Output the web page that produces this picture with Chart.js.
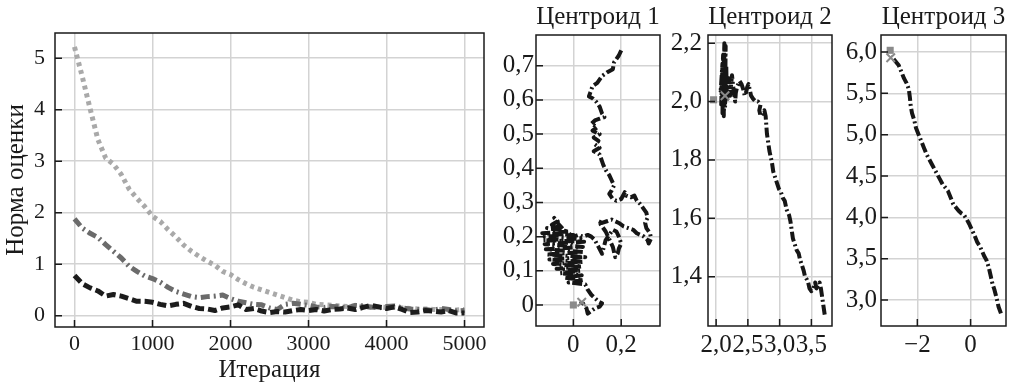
<!DOCTYPE html>
<html>
<head>
<meta charset="utf-8">
<script src="https://cdn.jsdelivr.net/npm/chart.js@4.4.1/dist/chart.umd.min.js"></script>
<style>
  html, body { margin: 0; padding: 0; background: #fff; }
  #wrap { position: relative; width: 1014px; height: 387px; overflow: hidden; }
  canvas { position: absolute; top: 0; }
</style>
</head>
<body>
<div id="wrap">
  <canvas id="main" width="492" height="387" style="left:0"></canvas>
  <canvas id="c1" width="178" height="387" style="left:490px"></canvas>
  <canvas id="c2" width="172" height="387" style="left:668px"></canvas>
  <canvas id="c3" width="174" height="387" style="left:840px"></canvas>
</div>
<script>
// ---- main panel: norm of the estimate vs iteration ----
const iterations = [
  0, 100, 200, 300, 400, 500, 600, 700, 800, 900,
  1000, 1100, 1200, 1300, 1400, 1500, 1600, 1700, 1800, 1900,
  2000, 2100, 2200, 2300, 2400, 2500, 2600, 2700, 2800, 2900,
  3000, 3100, 3200, 3300, 3400, 3500, 3600, 3700, 3800, 3900,
  4000, 4100, 4200, 4300, 4400, 4500, 4600, 4700, 4800, 4900, 5000
];
const normLight = [
  5.22, 4.64, 4.02, 3.42, 3.06, 2.94, 2.74, 2.46, 2.28, 2.12,
  1.93, 1.83, 1.67, 1.53, 1.37, 1.25, 1.15, 1.06, 0.98, 0.86,
  0.80, 0.70, 0.62, 0.55, 0.50, 0.45, 0.40, 0.35, 0.30, 0.27,
  0.26, 0.22, 0.21, 0.20, 0.19, 0.18, 0.19, 0.18, 0.16, 0.17,
  0.16, 0.16, 0.15, 0.14, 0.13, 0.13, 0.12, 0.12, 0.11, 0.11, 0.12
];
const normMid = [
  1.88, 1.70, 1.60, 1.52, 1.38, 1.25, 1.12, 0.96, 0.86, 0.77,
  0.72, 0.65, 0.55, 0.47, 0.42, 0.37, 0.35, 0.37, 0.38, 0.40,
  0.33, 0.28, 0.25, 0.22, 0.21, 0.15, 0.12, 0.22, 0.24, 0.22,
  0.20, 0.17, 0.16, 0.18, 0.17, 0.15, 0.20, 0.19, 0.17, 0.15,
  0.18, 0.19, 0.15, 0.13, 0.12, 0.12, 0.10, 0.14, 0.12, 0.09, 0.10
];
const normDark = [
  0.78, 0.62, 0.54, 0.48, 0.38, 0.41, 0.38, 0.33, 0.28, 0.28,
  0.26, 0.22, 0.19, 0.22, 0.24, 0.18, 0.14, 0.13, 0.10, 0.15,
  0.17, 0.21, 0.12, 0.14, 0.09, 0.06, 0.08, 0.07, 0.10, 0.12,
  0.10, 0.12, 0.09, 0.12, 0.13, 0.15, 0.12, 0.16, 0.20, 0.17,
  0.14, 0.17, 0.12, 0.06, 0.07, 0.10, 0.09, 0.07, 0.10, 0.05, 0.05
];
const mainXTicks = [0, 1000, 2000, 3000, 4000, 5000];
const mainXLabels = ["0", "1000", "2000", "3000", "4000", "5000"];
const mainYTicks = [0, 1, 2, 3, 4, 5];
const mainYLabels = ["0", "1", "2", "3", "4", "5"];

// ---- centroid 1 trajectory ----
const c1x = [
  0.20, 0.19, 0.17, 0.165, 0.14, 0.12, 0.10, 0.08, 0.07, 0.065, 0.08, 0.095, 0.11, 0.12, 0.13,
  0.11, 0.09, 0.075, 0.10, 0.08, 0.11, 0.085, 0.105, 0.09, 0.11, 0.085, 0.10, 0.11, 0.115, 0.12,
  0.125, 0.135, 0.15, 0.16, 0.17, 0.16, 0.15, 0.165, 0.18, 0.20, 0.215, 0.22, 0.24, 0.255, 0.265,
  0.28, 0.29, 0.305, 0.31, 0.30, 0.305, 0.32, 0.325, 0.315, 0.31, 0.295, 0.28, 0.265, 0.25, 0.23,
  0.21, 0.19, 0.175, 0.16, 0.14, 0.12, 0.105, 0.12, 0.135, 0.145, 0.155, 0.165, 0.17, 0.175, 0.185,
  0.19, 0.20, 0.19, 0.18, 0.165, 0.15, 0.135, 0.12, 0.105, 0.09, 0.075, 0.06, 0.04, 0.02, 0.0,
  -0.02, -0.04, -0.06, -0.08, -0.065, -0.09, -0.05, -0.11, -0.02, -0.13, 0.0, -0.12, 0.03, -0.125, 0.045,
  -0.12, 0.04, -0.115, 0.045, -0.11, 0.05, -0.10, 0.04, -0.085, 0.035, -0.07, 0.03, -0.055, 0.035, -0.035,
  0.04, -0.02, 0.05, 0.06, 0.075, 0.09, 0.105, 0.12, 0.11, 0.09, 0.07, 0.06, 0.055, 0.045, 0.035, 0.03
];
const c1y = [
  0.745, 0.73, 0.71, 0.69, 0.68, 0.67, 0.65, 0.64, 0.62, 0.61, 0.605, 0.595, 0.58, 0.56, 0.55,
  0.545, 0.54, 0.53, 0.52, 0.51, 0.50, 0.49, 0.48, 0.47, 0.46, 0.45, 0.445, 0.44, 0.43, 0.42,
  0.41, 0.395, 0.38, 0.365, 0.35, 0.335, 0.325, 0.31, 0.305, 0.31, 0.33, 0.32, 0.315, 0.32, 0.305,
  0.295, 0.285, 0.27, 0.255, 0.24, 0.225, 0.21, 0.195, 0.18, 0.19, 0.20, 0.205, 0.21, 0.22, 0.225,
  0.23, 0.24, 0.245, 0.25, 0.245, 0.24, 0.245, 0.23, 0.215, 0.20, 0.185, 0.17, 0.155, 0.14, 0.15,
  0.165, 0.18, 0.20, 0.215, 0.22, 0.205, 0.19, 0.15, 0.17, 0.19, 0.20, 0.205, 0.20, 0.205, 0.20,
  0.21, 0.22, 0.235, 0.255, 0.245, 0.235, 0.23, 0.225, 0.215, 0.21, 0.205, 0.20, 0.195, 0.19, 0.185,
  0.178, 0.17, 0.163, 0.155, 0.148, 0.14, 0.133, 0.126, 0.12, 0.113, 0.106, 0.10, 0.093, 0.087, 0.08,
  0.073, 0.066, 0.06, 0.045, 0.03, 0.02, 0.01, 0.005, -0.005, -0.01, -0.02, -0.025, -0.01, 0.0, 0.01, 0.005
];
const c1XTicks = [0, 0.2];
const c1XLabels = ["0", "0,2"];
const c1YTicks = [0, 0.1, 0.2, 0.3, 0.4, 0.5, 0.6, 0.7];
const c1YLabels = ["0", "0,1", "0,2", "0,3", "0,4", "0,5", "0,6", "0,7"];
const c1Start = [0.0, 0.0];
const c1End = [0.035, 0.008];

// ---- centroid 2 trajectory ----
const c2x = [
  3.71, 3.69, 3.67, 3.65, 3.63, 3.61, 3.58, 3.56, 3.53, 3.50, 3.47, 3.45, 3.43, 3.40, 3.38,
  3.35, 3.32, 3.30, 3.27, 3.24, 3.21, 3.19, 3.17, 3.15, 3.11, 3.08, 3.05, 3.02, 2.99, 2.96,
  2.93, 2.90, 2.88, 2.86, 2.84, 2.82, 2.80, 2.79, 2.78, 2.76, 2.73, 2.70, 2.68, 2.70, 2.66,
  2.62, 2.58, 2.55, 2.53, 2.51, 2.49, 2.47, 2.45, 2.43, 2.40, 2.37, 2.35, 2.33, 2.31, 2.30,
  2.28, 2.25, 2.22, 2.20, 2.17, 2.16, 2.14, 2.15, 2.12, 2.13, 2.10, 2.11, 2.08, 2.10, 2.07,
  2.12, 2.09, 2.14, 2.11, 2.13
];
const c2y = [
  1.27, 1.30, 1.33, 1.36, 1.38, 1.37, 1.36, 1.38, 1.36, 1.35, 1.36, 1.38, 1.39, 1.40, 1.42,
  1.44, 1.46, 1.48, 1.49, 1.51, 1.53, 1.56, 1.59, 1.61, 1.63, 1.66, 1.67, 1.69, 1.70, 1.72,
  1.74, 1.76, 1.79, 1.81, 1.83, 1.86, 1.89, 1.92, 1.95, 1.97, 1.96, 1.95, 1.97, 1.99, 2.00,
  2.00, 2.01, 2.02, 2.04, 2.06, 2.05, 2.03, 2.02, 2.04, 2.06, 2.07, 2.06, 2.05, 2.03, 2.00,
  2.03, 2.09, 2.02, 2.08, 2.00, 2.12, 1.98, 2.19, 1.95, 2.20, 1.96, 2.16, 1.99, 2.13, 2.03,
  2.10, 2.00, 2.07, 2.02, 2.04
];
const c2XTicks = [2.0, 2.5, 3.0, 3.5];
const c2XLabels = ["2,0", "2,5", "3,0", "3,5"];
const c2YTicks = [1.4, 1.6, 1.8, 2.0, 2.2];
const c2YLabels = ["1,4", "1,6", "1,8", "2,0", "2,2"];
const c2Start = [1.96, 2.006];
const c2End = [2.14, 2.02];

// ---- centroid 3 trajectory ----
const c3x = [
  1.14, 1.05, 0.98, 0.90, 0.82, 0.75, 0.68, 0.60, 0.50, 0.42, 0.35, 0.25, 0.15, 0.05, -0.05,
  -0.15, -0.25, -0.35, -0.45, -0.55, -0.65, -0.75, -0.85, -0.95, -1.05, -1.15, -1.25, -1.35, -1.45, -1.55,
  -1.65, -1.75, -1.85, -1.95, -2.05, -2.12, -2.20, -2.25, -2.28, -2.32, -2.40, -2.50, -2.60, -2.70, -2.80,
  -2.90, -3.00
];
const c3y = [
  2.84, 2.92, 3.02, 3.12, 3.20, 3.30, 3.40, 3.48, 3.54, 3.60, 3.65, 3.70, 3.78, 3.85, 3.92,
  3.98, 4.03, 4.05, 4.08, 4.12, 4.16, 4.24, 4.32, 4.36, 4.40, 4.46, 4.52, 4.58, 4.64, 4.70,
  4.76, 4.84, 4.92, 5.00, 5.08, 5.18, 5.26, 5.35, 5.45, 5.55, 5.62, 5.68, 5.76, 5.84, 5.88,
  5.92, 5.94
];
const c3XTicks = [-2, 0];
const c3XLabels = ["\u22122", "0"];
const c3YTicks = [3.0, 3.5, 4.0, 4.5, 5.0, 5.5, 6.0];
const c3YLabels = ["3,0", "3,5", "4,0", "4,5", "5,0", "5,5", "6,0"];
const c3Start = [-3.02, 6.02];
const c3End = [-3.0, 5.93];

// ---- styling ----
Chart.defaults.font.family = '"Liberation Serif", "DejaVu Serif", serif';
Chart.defaults.font.size = 22;
Chart.defaults.color = "#1a1a1a";
Chart.defaults.animation = false;

const GRID = "#d3d3d3";
const MARK = "#8a8a8a";

// black frame around the plot area plus inward tick marks
const framePlugin = {
  id: "frame",
  afterDatasetsDraw(chart) {
    const { ctx, chartArea: a, scales } = chart;
    ctx.save();
    ctx.strokeStyle = "#1a1a1a";
    ctx.lineWidth = 1.5;
    ctx.strokeRect(a.left, a.top, a.right - a.left, a.bottom - a.top);
    ctx.beginPath();
    scales.x.ticks.forEach(t => {
      const px = scales.x.getPixelForValue(t.value);
      ctx.moveTo(px, a.bottom);
      ctx.lineTo(px, a.bottom - 7);
    });
    scales.y.ticks.forEach(t => {
      const py = scales.y.getPixelForValue(t.value);
      ctx.moveTo(a.left, py);
      ctx.lineTo(a.left + 7, py);
    });
    ctx.stroke();
    ctx.restore();
  }
};

function axis(min, max, tickVals, tickLabels, size, pad, fontSize, title) {
  return {
    type: "linear",
    min: min,
    max: max,
    afterBuildTicks: s => { s.ticks = tickVals.map(v => ({ value: v })); },
    afterFit: s => {
      if (s.isHorizontal()) s.height = size; else s.width = size;
    },
    ticks: {
      autoSkip: false,
      maxRotation: 0,
      padding: pad,
      font: { size: fontSize },
      callback: (v, i) => tickLabels[i]
    },
    grid: { color: GRID, lineWidth: 1.5, drawTicks: false },
    border: { display: false },
    title: title || { display: false }
  };
}

function pts(xs, ys) {
  return xs.map((x, i) => ({ x: x, y: ys[i] }));
}

const lineStyle = { showLine: true, pointRadius: 0, borderJoinStyle: "round", borderCapStyle: "butt" };

new Chart(document.getElementById("main"), {
  type: "scatter",
  data: {
    datasets: [
      Object.assign({
        data: pts(iterations, normDark),
        borderColor: "#1c1c1c", borderWidth: 5, borderDash: [9, 4],
        order: 0
      }, lineStyle),
      Object.assign({
        data: pts(iterations, normMid),
        borderColor: "#6b6b6b", borderWidth: 5, borderDash: [9, 4, 2, 4],
        order: 1
      }, lineStyle),
      Object.assign({
        data: pts(iterations, normLight),
        borderColor: "#a9a9a9", borderWidth: 5, borderDash: [4, 4],
        order: 2
      }, lineStyle)
    ]
  },
  options: {
    responsive: false,
    layout: { padding: { left: 0, right: 8, top: 33, bottom: 0 } },
    plugins: { legend: { display: false }, tooltip: { enabled: false } },
    scales: {
      x: axis(-250, 5250, mainXTicks, mainXLabels, 60, 4, 22,
        { display: true, text: "Итерация", font: { size: 25 }, padding: { top: 0, bottom: 2 } }),
      y: axis(-0.22, 5.49, mainYTicks, mainYLabels, 55, 10, 22,
        { display: true, text: "Норма оценки", font: { size: 25 }, padding: { top: 1, bottom: 0 } })
    }
  },
  plugins: [framePlugin]
});

function centroidChart(id, title, xs, ys, start, end, xr, yr, xt, xl, yt, yl, yWidth, yPad, rightPad) {
  new Chart(document.getElementById(id), {
    type: "scatter",
    data: {
      datasets: [
        {
          data: [{ x: start[0], y: start[1] }],
          pointStyle: "rect", pointRadius: 5,
          backgroundColor: MARK, borderColor: MARK, borderWidth: 0,
          order: 0
        },
        {
          data: [{ x: end[0], y: end[1] }],
          pointStyle: "crossRot", pointRadius: 6,
          borderColor: MARK, borderWidth: 2,
          order: 0
        },
        Object.assign({
          data: pts(xs, ys),
          borderColor: "#161616", borderWidth: 4, borderDash: [10, 3, 2, 3],
          order: 1
        }, lineStyle)
      ]
    },
    options: {
      responsive: false,
      layout: { padding: { left: 0, right: rightPad, top: 0, bottom: 0 } },
      plugins: {
        legend: { display: false },
        tooltip: { enabled: false },
        title: {
          display: true, text: title, fullSize: false,
          padding: { top: 2, bottom: 3 },
          font: { size: 25, weight: "normal" }, color: "#1a1a1a"
        }
      },
      scales: {
        x: axis(xr[0], xr[1], xt, xl, 61, 4, 25),
        y: axis(yr[0], yr[1], yt, yl, yWidth, yPad, 25)
      }
    },
    plugins: [framePlugin]
  });
}

centroidChart("c1", "Центроид 1", c1x, c1y, c1Start, c1End,
  [-0.156, 0.362], [-0.0615, 0.79], c1XTicks, c1XLabels, c1YTicks, c1YLabels, 46, 2, 5);
centroidChart("c2", "Центроид 2", c2x, c2y, c2Start, c2End,
  [1.872, 3.825], [1.231, 2.228], c2XTicks, c2XLabels, c2YTicks, c2YLabels, 40, 6, 6);
centroidChart("c3", "Центроид 3", c3x, c3y, c3Start, c3End,
  [-3.365, 1.33], [2.687, 6.205], c3XTicks, c3XLabels, c3YTicks, c3YLabels, 41, 4, 7);
</script>
</body>
</html>
